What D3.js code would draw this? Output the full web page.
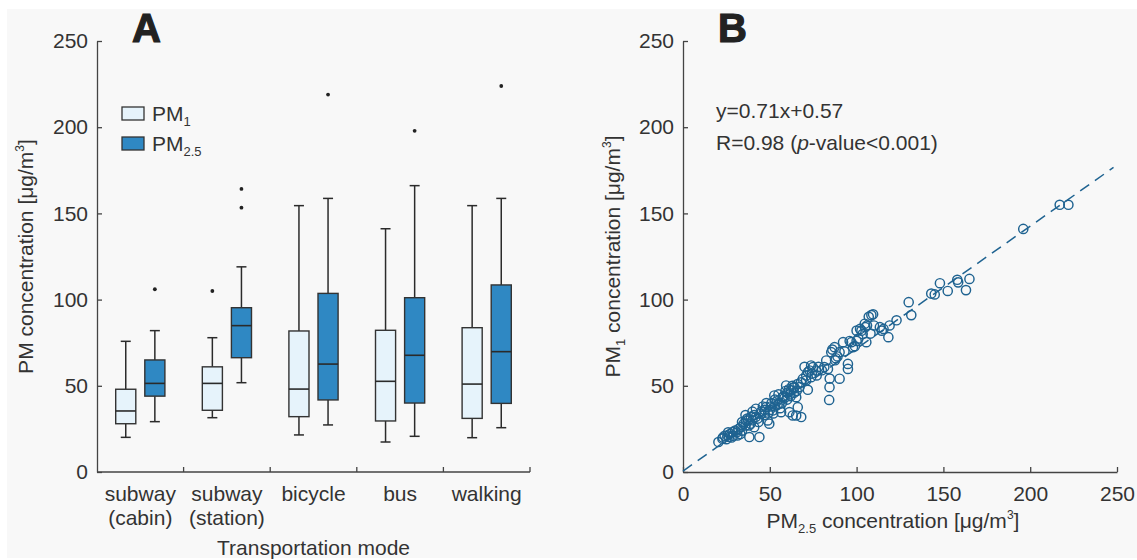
<!DOCTYPE html>
<html>
<head>
<meta charset="utf-8">
<script src="https://cdn.jsdelivr.net/npm/d3@7"></script>
<style>
  body { margin: 0; background: #ffffff; }
  svg { display: block; font-family: "Liberation Sans", Arial, Helvetica, sans-serif; }
</style>
</head>
<body>
<svg id="chart" width="1137" height="560"></svg>
<script>
// ---- Panel A: PM concentration by transportation mode ----
const modes = ["subway (cabin)", "subway (station)", "bicycle", "bus", "walking"];
const modeLines = [["subway", "(cabin)"], ["subway", "(station)"], ["bicycle"], ["bus"], ["walking"]];
const seriesNames = ["PM1", "PM2.5"];

// [lower whisker, Q1, median, Q3, upper whisker]
const pm1Stats = [
  [20.1, 28.0, 35.4, 48.0, 75.8],
  [31.5, 35.8, 51.4, 61.0, 77.9],
  [21.5, 32.1, 48.1, 81.8, 154.5],
  [17.4, 29.6, 52.6, 82.2, 141.1],
  [19.9, 31.1, 51.0, 83.7, 154.5]
];
const pm25Stats = [
  [29.2, 44.0, 51.4, 65.0, 82.0],
  [51.8, 66.3, 84.9, 95.3, 119.0],
  [27.3, 41.8, 62.6, 103.6, 158.7],
  [20.7, 40.0, 67.7, 101.1, 166.1],
  [25.7, 39.8, 69.8, 108.5, 158.7]
];
const pm1Outliers = [[], [105], [], [], []];
const pm25Outliers = [[106], [164.2, 153.3], [218.9], [197.9], [223.9]];

const concTicks = [0, 50, 100, 150, 200, 250];

// ---- Panel B: paired PM2.5 / PM1 samples ----
const pm25Paired = [
  222, 217, 196, 165, 163, 158, 158.5, 152.5, 148, 145, 143, 130, 131.5, 123, 119, 118.3, 113.4, 114.5,
  108.5, 107, 109.5, 108, 105.6, 105, 104.7, 102.8, 100, 101, 97.9, 97, 95, 95, 92.2, 90.2, 90.2, 87.3,
  85.4, 84.4, 84.2, 84.5, 83.5, 82.5, 87.6, 81.4, 86, 76.7, 74.8, 73.8, 72.9, 73.8, 70.9, 71.9, 74.2,
  67.1, 64.2, 65.2, 68.1, 66.1, 65.2, 63.2, 61.3, 62.3, 59.4, 57.5, 56.5, 55.5, 52.6, 51.7, 49.7, 48.8,
  47.8, 44.9, 42, 39.1, 36.2, 44, 38.2, 33.4, 31.4, 28.5, 26.6, 25.6, 22.7, 20.4,
  35, 37, 40, 41, 38, 43, 45, 46, 50, 51, 53, 54, 49, 55, 58, 60, 61, 62, 63, 60, 57, 30, 32, 27, 24,
  29, 34, 36, 31, 25, 23, 33, 40, 42, 47, 52, 56, 64, 66, 68, 69, 71, 39, 41, 36, 53, 59, 70, 78, 88,
  100, 102, 96, 106, 34, 48,
  37.5, 43.5, 47, 50.5, 54.5, 58.5, 61.5, 63.5, 65.5, 72, 77, 80, 89, 93, 99, 103.5, 110, 115.5, 28, 26
];
const pm1Paired = [
  155, 155, 141, 112, 105.5, 111.5, 110, 105, 109.5, 103, 103.5, 98.5, 91, 88, 85, 78.2, 84, 82,
  91, 90, 91.5, 80.3, 75.3, 84, 86, 82, 82, 77.4, 72.4, 75.3, 59.8, 62.7, 75.3, 69.5, 54.1, 72.4,
  69.5, 49.2, 41.8, 54.2, 59.8, 64.7, 64.8, 60.9, 71, 58.9, 60.8, 61.8, 58.9, 55, 53.1, 47.7, 57.1,
  49.2, 49.2, 43.4, 31.9, 37.6, 32.8, 32.8, 34.7, 47.3, 50.2, 43.4, 34.7, 39.6, 44.4, 35.7, 28, 29.9,
  37.6, 33.8, 36.7, 31.9, 29.9, 20.3, 20.3, 26.1, 21.2, 23.2, 20.3, 21.2, 19.3, 17.4,
  28, 31, 30, 33, 27, 31, 35, 38, 36, 40, 38, 41, 34, 45, 44, 46, 48, 44, 50, 42, 40, 24, 25, 22, 21,
  21, 24, 27, 23, 19, 20, 22, 35, 32, 33, 34, 37, 46, 51, 52, 54, 56, 28, 26, 33, 42, 47, 61, 61, 66,
  76, 83, 76, 85, 29, 40,
  30, 29, 36, 38, 39, 43, 45, 49, 47, 58, 56, 59, 67, 70, 73, 80, 85, 83, 20, 23
];
const fitSlope = 0.71;
const fitIntercept = 0.57;
const fitRange = [0, 248];

// ---- Styles ----
const textColor = "#333333";
const axisColor = "#444444";
const pm1Fill = "#e6f3fb";
const pm25Fill = "#2f88c3";
const scatterColor = "#1f6391";
const fontSize = 21;

const svg = d3.select("#chart");
const W = +svg.attr("width"), H = +svg.attr("height");

svg.append("rect").attr("width", W).attr("height", H).attr("fill", "#ffffff");
svg.append("rect").attr("x", 7).attr("y", 9).attr("width", W - 7).attr("height", H - 11).attr("fill", "#f8f8f8");

function styleAxis(g) {
  g.select(".domain").attr("stroke", axisColor).attr("stroke-width", 1.3);
  g.selectAll(".tick line").attr("stroke", axisColor).attr("stroke-width", 1.3);
  g.selectAll(".tick text").attr("fill", textColor).attr("font-size", fontSize)
    .attr("font-family", "Liberation Sans, Arial, sans-serif");
}

// Text with trailing unit "[μg/m³]" and optional subscript on "PM"
function unitLabel(sel, prefix, sub, rest) {
  sel.append("tspan").text(prefix);
  if (sub) {
    sel.append("tspan").attr("font-size", 13).attr("dy", 5).text(sub);
    sel.append("tspan").attr("dy", -5).text(rest);
  } else {
    sel.append("tspan").text(rest);
  }
  sel.append("tspan").text("[μg/m");
  sel.append("tspan").attr("font-size", 12).attr("dy", -9).text("3");
  sel.append("tspan").attr("dy", 9).text("]");
}

// ================= Panel A =================
const xA = d3.scaleBand().domain(modes).range([97, 530]);
const yA = d3.scaleLinear().domain([0, 250]).range([472, 41]);
const bw = xA.bandwidth();
const boxW = bw * 0.232;
const boxOffset = bw * 0.168;
const capW = 10;

const gA = svg.append("g");

gA.append("g")
  .attr("transform", `translate(${xA.range()[0]},0)`)
  .call(d3.axisLeft(yA).tickValues(concTicks).tickSize(-5).tickSizeOuter(0).tickPadding(9))
  .call(styleAxis);

// category axis with ticks on band boundaries
const xAxisA = gA.append("g").attr("transform", `translate(0,${yA(0)})`);
xAxisA.append("line")
  .attr("x1", xA.range()[0]).attr("x2", xA.range()[1])
  .attr("stroke", axisColor).attr("stroke-width", 1.3);
xAxisA.selectAll("line.tick")
  .data(modes)
  .join("line")
  .attr("class", "tick")
  .attr("x1", d => xA(d) + bw).attr("x2", d => xA(d) + bw)
  .attr("y1", 0).attr("y2", -5)
  .attr("stroke", axisColor).attr("stroke-width", 1.3);

modes.forEach((m, i) => {
  const t = xAxisA.append("text")
    .attr("text-anchor", "middle")
    .attr("fill", textColor)
    .attr("font-size", fontSize);
  modeLines[i].forEach((line, j) => {
    t.append("tspan").attr("x", xA(m) + bw / 2).attr("y", 29 + j * 24).text(line);
  });
});

gA.append("text")
  .attr("x", (xA.range()[0] + xA.range()[1]) / 2)
  .attr("y", 555)
  .attr("text-anchor", "middle")
  .attr("fill", textColor)
  .attr("font-size", fontSize)
  .text("Transportation mode");

gA.append("text")
  .attr("transform", `translate(33,${(yA(0) + yA(250)) / 2}) rotate(-90)`)
  .attr("text-anchor", "middle")
  .attr("fill", textColor)
  .attr("font-size", fontSize)
  .call(unitLabel, "PM concentration ", null, "");

// boxes
const series = [
  { stats: pm1Stats, outliers: pm1Outliers, fill: pm1Fill, side: -1 },
  { stats: pm25Stats, outliers: pm25Outliers, fill: pm25Fill, side: 1 }
];

series.forEach(s => {
  modes.forEach((m, i) => {
    const [lo, q1, med, q3, hi] = s.stats[i];
    const cx = xA(m) + bw / 2 + s.side * boxOffset;
    const g = gA.append("g");
    g.append("line").attr("x1", cx).attr("x2", cx).attr("y1", yA(q3)).attr("y2", yA(hi))
      .attr("stroke", "#2b2b2b").attr("stroke-width", 1.5);
    g.append("line").attr("x1", cx).attr("x2", cx).attr("y1", yA(q1)).attr("y2", yA(lo))
      .attr("stroke", "#2b2b2b").attr("stroke-width", 1.5);
    [hi, lo].forEach(v => {
      g.append("line").attr("x1", cx - capW / 2).attr("x2", cx + capW / 2)
        .attr("y1", yA(v)).attr("y2", yA(v))
        .attr("stroke", "#2b2b2b").attr("stroke-width", 1.5);
    });
    g.append("rect")
      .attr("x", cx - boxW / 2).attr("width", boxW)
      .attr("y", yA(q3)).attr("height", yA(q1) - yA(q3))
      .attr("fill", s.fill).attr("stroke", "#333333").attr("stroke-width", 1.4);
    g.append("line").attr("x1", cx - boxW / 2).attr("x2", cx + boxW / 2)
      .attr("y1", yA(med)).attr("y2", yA(med))
      .attr("stroke", "#2a2a2a").attr("stroke-width", 1.6);
    g.selectAll("circle").data(s.outliers[i]).join("circle")
      .attr("cx", cx).attr("cy", d => yA(d)).attr("r", 1.9).attr("fill", "#222222");
  });
});

// legend
const legend = gA.append("g");
[[pm1Fill, "1", 107], [pm25Fill, "2.5", 137]].forEach(([fill, sub, y0]) => {
  legend.append("rect").attr("x", 122).attr("y", y0).attr("width", 22).attr("height", 13)
    .attr("fill", fill).attr("stroke", "#333333").attr("stroke-width", 1.3);
  const t = legend.append("text").attr("x", 152).attr("y", y0 + 14)
    .attr("fill", textColor).attr("font-size", fontSize);
  t.append("tspan").text("PM");
  t.append("tspan").attr("font-size", 13).attr("dy", 5).text(sub);
});

gA.append("text").attr("x", 132).attr("y", 42)
  .attr("font-size", 40).attr("font-weight", "bold").attr("fill", "#222222")
  .attr("stroke", "#222222").attr("stroke-width", 1.2).text("A");

// ================= Panel B =================
const xB = d3.scaleLinear().domain([0, 250]).range([683, 1117]);
const yB = d3.scaleLinear().domain([0, 250]).range([472, 41]);
const gB = svg.append("g");

gB.append("g")
  .attr("transform", `translate(${xB(0)},0)`)
  .call(d3.axisLeft(yB).tickValues(concTicks).tickSize(-5).tickSizeOuter(0).tickPadding(9))
  .call(styleAxis);

gB.append("g")
  .attr("transform", `translate(0,${yB(0)})`)
  .call(d3.axisBottom(xB).tickValues(concTicks).tickSize(-5).tickSizeOuter(0).tickPadding(14.5))
  .call(styleAxis);

gB.append("text")
  .attr("x", 893).attr("y", 528)
  .attr("text-anchor", "middle")
  .attr("fill", textColor).attr("font-size", fontSize)
  .call(unitLabel, "PM", "2.5", " concentration ");

gB.append("text")
  .attr("transform", `translate(620,${(yB(0) + yB(250)) / 2}) rotate(-90)`)
  .attr("text-anchor", "middle")
  .attr("fill", textColor).attr("font-size", fontSize)
  .call(unitLabel, "PM", "1", " concentration ");

// regression line
const fitLine = d3.line().x(d => xB(d)).y(d => yB(fitSlope * d + fitIntercept));
gB.append("path")
  .attr("d", fitLine(fitRange))
  .attr("fill", "none")
  .attr("stroke", scatterColor)
  .attr("stroke-width", 1.5)
  .attr("stroke-dasharray", "11,7");

// scatter
gB.append("g").selectAll("circle")
  .data(d3.range(pm25Paired.length))
  .join("circle")
  .attr("cx", i => xB(pm25Paired[i]))
  .attr("cy", i => yB(pm1Paired[i]))
  .attr("r", 4.6)
  .attr("fill", "none")
  .attr("stroke", scatterColor)
  .attr("stroke-width", 1.45);

// annotation
gB.append("text").attr("x", 716).attr("y", 118)
  .attr("fill", textColor).attr("font-size", fontSize)
  .text(`y=${fitSlope}x+${fitIntercept}`);
const rText = gB.append("text").attr("x", 716).attr("y", 150)
  .attr("fill", textColor).attr("font-size", fontSize);
rText.append("tspan").text("R=0.98 (");
rText.append("tspan").attr("font-style", "italic").text("p");
rText.append("tspan").text("-value<0.001)");

gB.append("text").attr("x", 718).attr("y", 42)
  .attr("font-size", 40).attr("font-weight", "bold").attr("fill", "#222222")
  .attr("stroke", "#222222").attr("stroke-width", 1.2).text("B");
</script>
</body>
</html>
